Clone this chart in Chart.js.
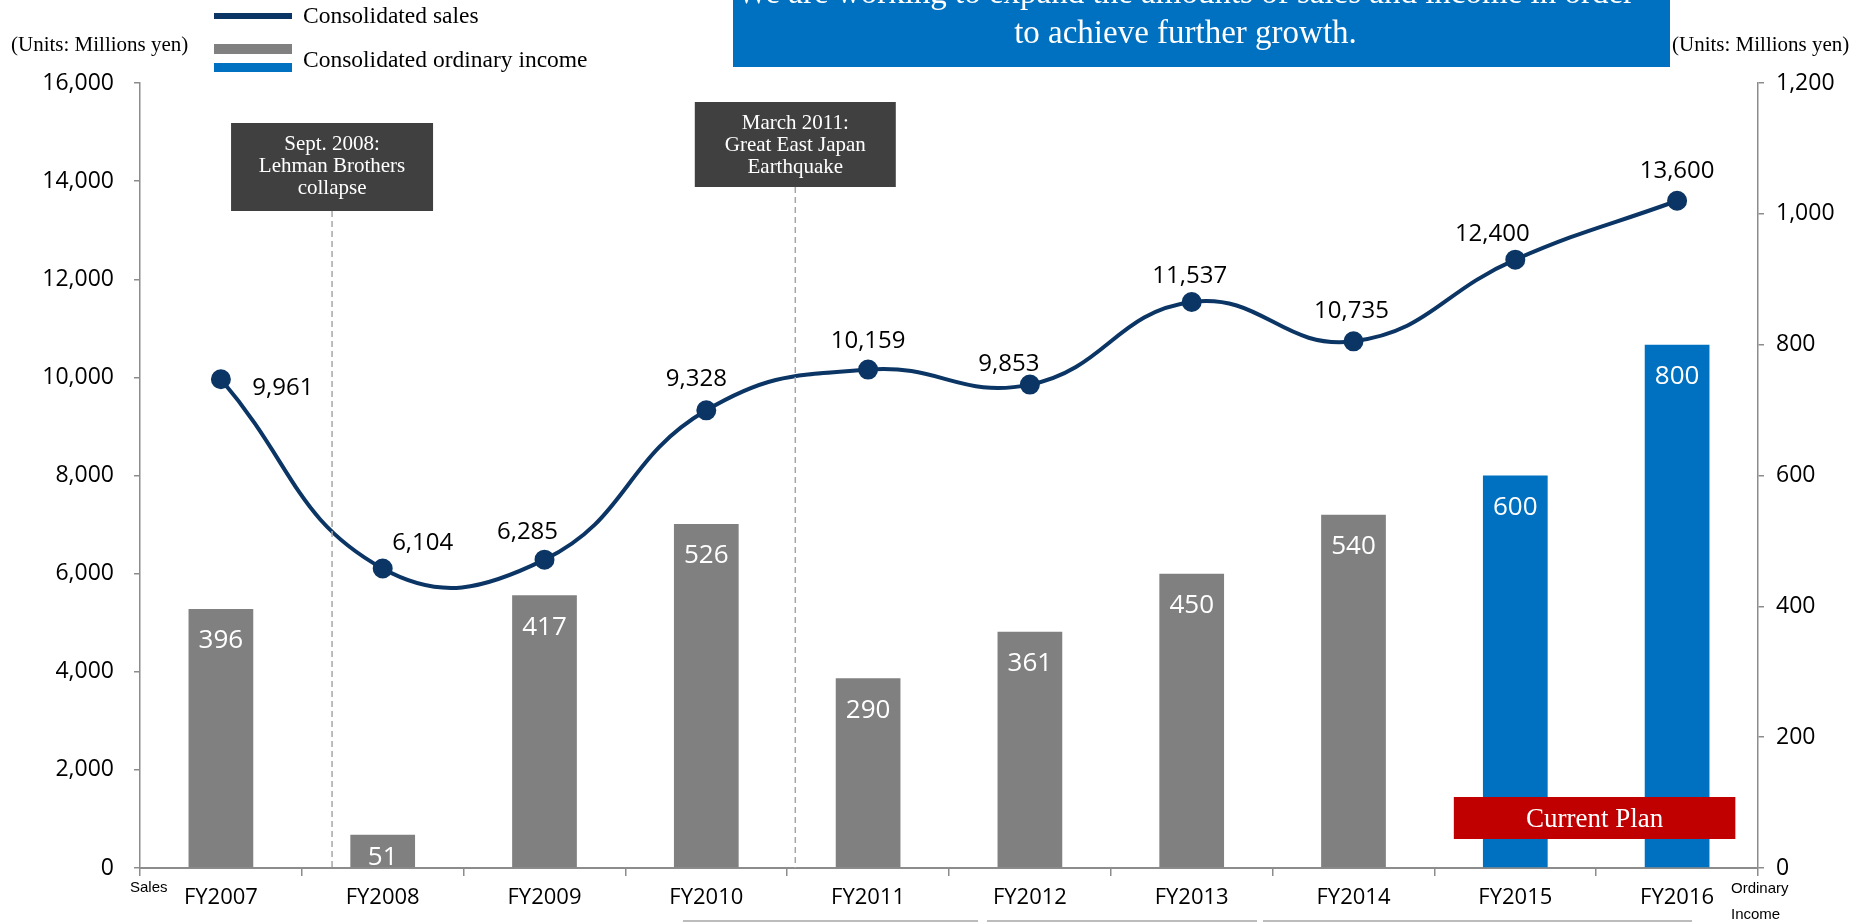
<!DOCTYPE html>
<html>
<head>
<meta charset="utf-8">
<script src="https://cdn.jsdelivr.net/npm/chart.js@4"></script>
<style>
  html, body { margin: 0; padding: 0; background: #fff; }
  #wrap { position: relative; width: 1866px; height: 923px; overflow: hidden; }
  #chart { position: absolute; left: 0; top: 0; }
  .serif { position: absolute; font-family: "Liberation Serif", "Times New Roman", serif; color: #000; white-space: nowrap; }
  .swatch { position: absolute; left: 214px; width: 78px; }
  .small { position: absolute; font-family: "Liberation Sans Narrow", "Liberation Sans", sans-serif; font-size: 15px; color: #000; }
</style>
</head>
<body>
<div id="wrap">
  <canvas id="chart" width="1866" height="923"></canvas>

  <div class="swatch" style="top:13px;height:6px;background:#0b3564"></div>
  <div class="swatch" style="top:44px;height:10px;background:#808080"></div>
  <div class="swatch" style="top:63px;height:9px;background:#0070c0"></div>
  <div class="serif" style="left:303px;top:2px;font-size:23.5px">Consolidated sales</div>
  <div class="serif" style="left:303px;top:46px;font-size:23.5px">Consolidated ordinary income</div>

  <div class="serif" style="left:11px;top:32px;font-size:21px">(Units: Millions yen)</div>
  <div class="serif" style="left:1672px;top:32px;font-size:21px">(Units: Millions yen)</div>

  <div style="position:absolute;left:733px;top:0;width:937px;height:67px;background:#0070c0;overflow:hidden">
    <div class="serif" style="position:absolute;left:-16px;width:937px;top:-28px;text-align:center;color:#fff;font-size:33px;line-height:40px">We are working to expand the amounts of sales and income in order<br>to achieve further growth.</div>
  </div>

  <div class="small" style="left:130px;top:878px">Sales</div>
  <div class="small" style="left:1731px;top:879px">Ordinary</div>
  <div class="small" style="left:1731px;top:905px">Income</div>
</div>

<script>
const categories = ['FY2007', 'FY2008', 'FY2009', 'FY2010', 'FY2011', 'FY2012', 'FY2013', 'FY2014', 'FY2015', 'FY2016']
const sales = [9961, 6104, 6285, 9328, 10159, 9853, 11537, 10735, 12400, 13600]
const ordinaryIncome = [396, 51, 417, 526, 290, 361, 450, 540, 600, 800]
const isPlan = [false, false, false, false, false, false, false, false, true, true]
const salesTicks = [0, 2000, 4000, 6000, 8000, 10000, 12000, 14000, 16000]
const incomeTicks = [0, 200, 400, 600, 800, 1000, 1200]

// label placement around each line point (px)
const salesLabelOffsets = [[62, 9], [40, -25], [-17, -27], [-10, -31], [0, -28], [-21, -20], [-2, -26], [-2, -30], [-23, -25], [0, -30]]

const NAVY = '#0b3564'
const GRAY = '#808080'
const BLUE = '#0070c0'
const AXIS = '#8c8c8c'

const fmt = v => v.toLocaleString('en-US')

const extrasPlugin = {
  id: 'extras',
  afterDatasetsDraw(chart) {
    const ctx = chart.ctx
    const x = chart.scales.x
    const area = chart.chartArea

    // bar labels
    const barMeta = chart.getDatasetMeta(1)
    ctx.save()
    ctx.font = '26px "Open Sans", sans-serif'
    ctx.fillStyle = '#fff'
    ctx.textAlign = 'center'
    ctx.textBaseline = 'middle'
    barMeta.data.forEach((bar, i) => {
      const y = Math.min(bar.y + 32, bar.base - 10)
      ctx.fillText(fmt(ordinaryIncome[i]), bar.x, y)
    })
    ctx.restore()

    // line labels
    const lineMeta = chart.getDatasetMeta(0)
    ctx.save()
    ctx.font = '24px "Open Sans", sans-serif'
    ctx.fillStyle = '#000'
    ctx.textAlign = 'center'
    ctx.textBaseline = 'middle'
    lineMeta.data.forEach((pt, i) => {
      const o = salesLabelOffsets[i]
      ctx.fillText(fmt(sales[i]), pt.x + o[0], pt.y + o[1])
    })
    ctx.restore()

    // event markers
    const events = [
      { at: 0.687, top: 123, h: 88, w: 202, lines: ['Sept. 2008:', 'Lehman Brothers', 'collapse'] },
      { at: 3.55, top: 102, h: 85, w: 201, lines: ['March 2011:', 'Great East Japan', 'Earthquake'] }
    ]
    events.forEach(ev => {
      const px = x.getPixelForValue(ev.at)
      ctx.save()
      ctx.strokeStyle = '#a6a6a6'
      ctx.lineWidth = 1.5
      ctx.setLineDash([6, 4])
      ctx.beginPath()
      ctx.moveTo(px, ev.top + ev.h)
      ctx.lineTo(px, area.bottom)
      ctx.stroke()
      ctx.restore()

      ctx.save()
      ctx.fillStyle = '#404040'
      ctx.fillRect(px - ev.w / 2, ev.top, ev.w, ev.h)
      ctx.fillStyle = '#fff'
      ctx.font = '21px "Liberation Serif", serif'
      ctx.textAlign = 'center'
      ctx.textBaseline = 'middle'
      ev.lines.forEach((t, k) => ctx.fillText(t, px, ev.top + 21 + k * 22))
      ctx.restore()
    })

    // current plan banner
    const l = x.getPixelForValue(7.62)
    const r = x.getPixelForValue(9.36)
    ctx.save()
    ctx.fillStyle = '#c00000'
    ctx.fillRect(l, 797, r - l, 42)
    ctx.fillStyle = '#fff'
    ctx.font = '27px "Liberation Serif", serif'
    ctx.textAlign = 'center'
    ctx.textBaseline = 'middle'
    ctx.fillText('Current Plan', (l + r) / 2, 820)
    ctx.restore()

    // bracket lines under the axis labels
    ctx.save()
    ctx.strokeStyle = '#a6a6a6'
    ctx.lineWidth = 1.5
    ;[[683, 978], [987, 1257], [1263, 1692]].forEach(([a, b]) => {
      ctx.beginPath()
      ctx.moveTo(a, 921)
      ctx.lineTo(b, 921)
      ctx.stroke()
    })
    ctx.restore()
  }
}

new Chart(document.getElementById('chart'), {
  type: 'bar',
  data: {
    labels: categories,
    datasets: [
      {
        type: 'line',
        label: 'Consolidated sales',
        data: sales,
        yAxisID: 'y',
        borderColor: NAVY,
        borderWidth: 4,
        tension: 0.45,
        pointRadius: 8,
        pointBackgroundColor: NAVY,
        pointBorderColor: NAVY,
        order: 0
      },
      {
        type: 'bar',
        label: 'Consolidated ordinary income',
        data: ordinaryIncome,
        yAxisID: 'y1',
        backgroundColor: isPlan.map(p => p ? BLUE : GRAY),
        barPercentage: 0.4,
        categoryPercentage: 1,
        order: 1
      }
    ]
  },
  options: {
    responsive: false,
    animation: false,
    layout: { padding: { top: 83, left: 0, right: 0, bottom: 0 } },
    plugins: {
      legend: { display: false },
      tooltip: { enabled: false }
    },
    scales: {
      x: {
        offset: true,
        grid: { offset: true, drawOnChartArea: false, tickLength: 8, color: AXIS, lineWidth: 1.5 },
        border: { color: AXIS, width: 2 },
        ticks: { color: '#000', font: { family: 'Open Sans', size: 22 }, padding: 9, maxRotation: 0 },
        afterFit: s => { s.height = 55 }
      },
      y: {
        position: 'left',
        min: 0,
        max: 16000,
        afterBuildTicks: s => { s.ticks = salesTicks.map(v => ({ value: v })) },
        grid: { drawOnChartArea: false, tickLength: 6, color: AXIS, lineWidth: 1.5 },
        border: { color: AXIS, width: 1.5 },
        ticks: { color: '#000', font: { family: 'Open Sans', size: 23 }, padding: 20, callback: v => fmt(v) },
        afterFit: s => { s.width = 140 }
      },
      y1: {
        position: 'right',
        min: 0,
        max: 1200,
        afterBuildTicks: s => { s.ticks = incomeTicks.map(v => ({ value: v })) },
        grid: { drawOnChartArea: false, tickLength: 6, color: AXIS, lineWidth: 1.5 },
        border: { color: AXIS, width: 1.5 },
        ticks: { color: '#000', font: { family: 'Open Sans', size: 23 }, padding: 12, callback: v => fmt(v) },
        afterFit: s => { s.width = 108 }
      }
    }
  },
  plugins: [extrasPlugin]
})
</script>
</body>
</html>
